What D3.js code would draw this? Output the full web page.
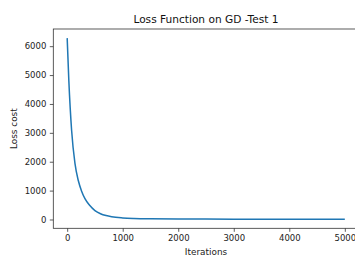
<!DOCTYPE html>
<html>
<head>
<meta charset="utf-8">
<script src="https://cdn.jsdelivr.net/npm/d3@7"></script>
<style>
  body { margin: 0; background: #fff; }
  svg { display: block; font-family: "DejaVu Sans", sans-serif; }
</style>
</head>
<body>
<svg></svg>
<script>
// Loss values, GD run over 5000 iterations
const iterations = [0, 30, 80, 140, 200, 260, 320, 400, 500, 600, 700, 800, 1000, 1200, 1500, 2000, 3000, 4000, 5000];
const lossCost = [6280, 4800, 3080, 1940, 1350, 980, 720, 500, 310, 200, 135, 95, 55, 35, 22, 15, 12, 10, 10];
const xTicks = [0, 1000, 2000, 3000, 4000, 5000];
const yTicks = [0, 1000, 2000, 3000, 4000, 5000, 6000];

const width = 355;
const height = 261;
const plotLeft = 53.3, plotRight = 358.7, plotTop = 29, plotBottom = 228.3;

const svg = d3.select("svg").attr("width", width).attr("height", height);

const data = iterations.map((d, i) => [d, lossCost[i]]);

const xScale = d3.scaleLinear().domain([-250, 5250]).range([plotLeft, plotRight]);
const yScale = d3.scaleLinear().domain([-305, 6595]).range([plotBottom, plotTop]);

svg.append("path")
  .datum(data)
  .attr("fill", "none")
  .attr("stroke", "#1f77b4")
  .attr("stroke-width", 1.5)
  .attr("d", d3.line().x(d => xScale(d[0])).y(d => yScale(d[1])).curve(d3.curveMonotoneX));

const xAxis = d3.axisBottom(xScale).tickValues(xTicks).tickFormat(d3.format("d"))
  .tickSizeOuter(0).tickSize(3.5).tickPadding(3.5);
const yAxis = d3.axisLeft(yScale).tickValues(yTicks).tickFormat(d3.format("d"))
  .tickSizeOuter(0).tickSize(3.5).tickPadding(3.5);

const gx = svg.append("g").attr("transform", "translate(0," + plotBottom + ")").call(xAxis);
const gy = svg.append("g").attr("transform", "translate(" + plotLeft + ",0)").call(yAxis);

[gx, gy].forEach(g => {
  g.select(".domain").remove();
  g.selectAll("line").attr("stroke", "#333").attr("stroke-width", 0.8);
  g.selectAll("text").attr("fill", "#222").style("font-size", "8.5px").style("font-family", "DejaVu Sans");
});

// spines
svg.append("rect")
  .attr("x", plotLeft).attr("y", plotTop)
  .attr("width", plotRight - plotLeft).attr("height", plotBottom - plotTop)
  .attr("fill", "none").attr("stroke", "#333").attr("stroke-width", 0.8);

svg.append("text")
  .attr("x", (plotLeft + plotRight) / 2).attr("y", 23)
  .attr("text-anchor", "middle")
  .style("font-size", "10.6px")
  .attr("fill", "#111")
  .text("Loss Function on GD -Test 1");

svg.append("text")
  .attr("x", 206).attr("y", 255)
  .attr("text-anchor", "middle")
  .style("font-size", "8.9px")
  .attr("fill", "#222")
  .text("Iterations");

svg.append("text")
  .attr("transform", "translate(17," + ((plotTop + plotBottom) / 2) + ") rotate(-90)")
  .attr("text-anchor", "middle")
  .style("font-size", "8.9px")
  .attr("fill", "#222")
  .text("Loss cost");
</script>
</body>
</html>
